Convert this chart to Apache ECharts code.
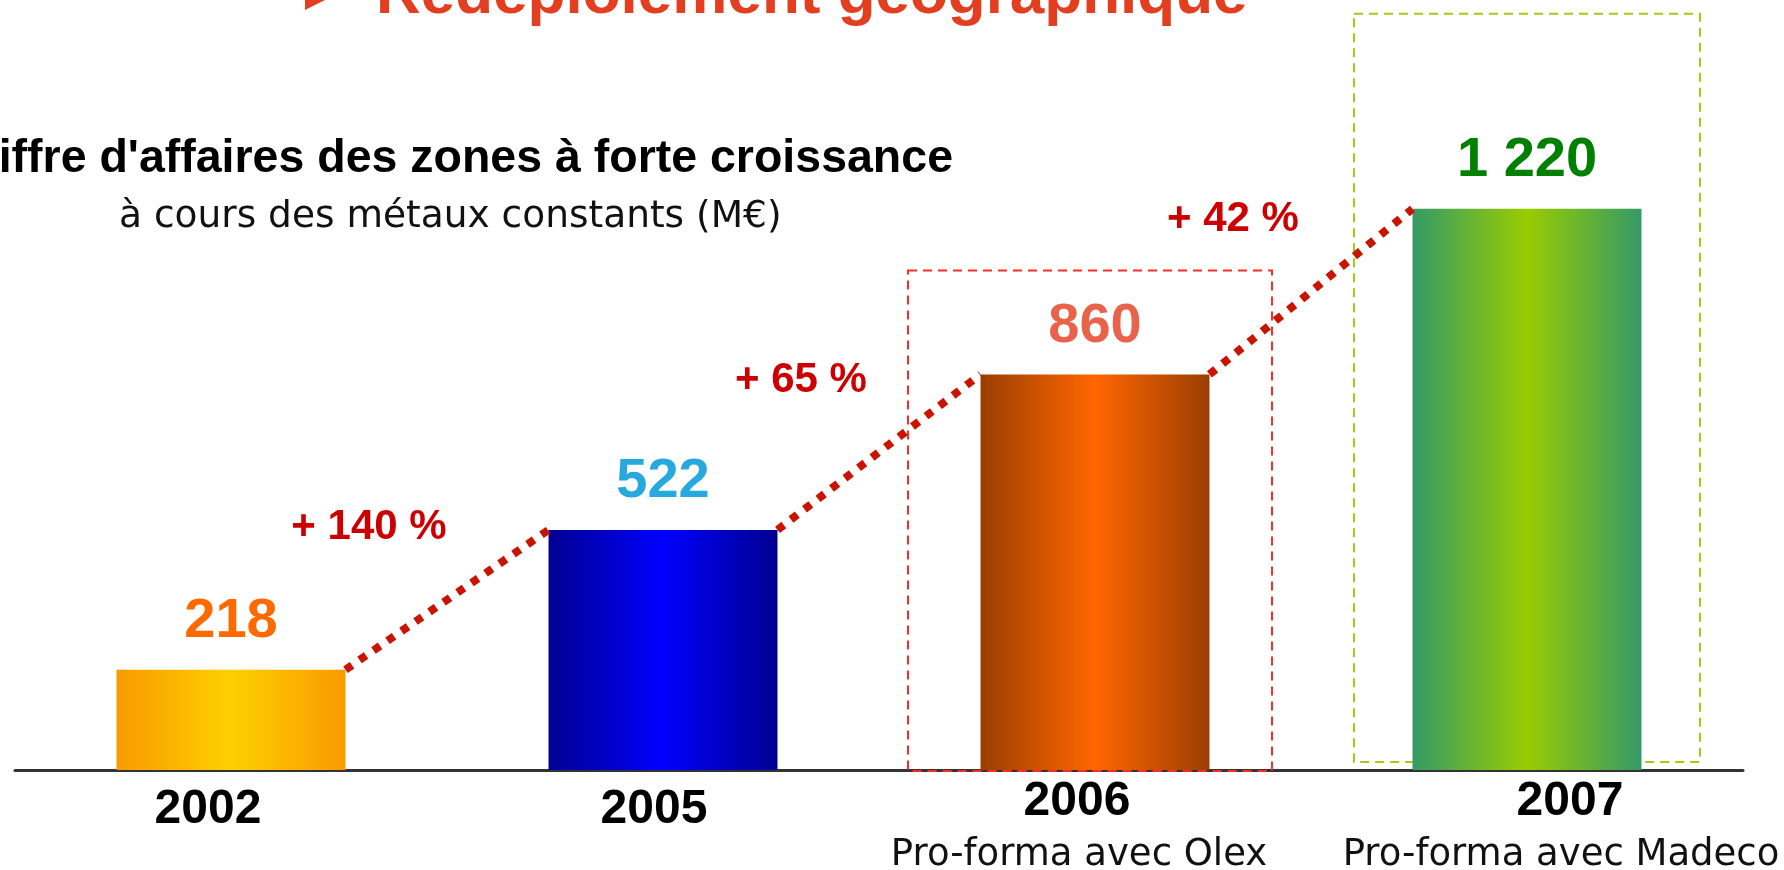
<!DOCTYPE html>
<html>
<head>
<meta charset="utf-8">
<title>Redéploiement géographique</title>
<script src="https://cdn.jsdelivr.net/npm/echarts@6/dist/echarts.min.js"></script>
<style>
html, body { margin: 0; padding: 0; background: #fff; }
#main { width: 1784px; height: 870px; }
</style>
</head>
<body>
<div id="main"></div>
<script>
// données
var years = ['2002', '2005', '2006', '2007'];
var notes = ['', '', 'Pro-forma avec Olex', 'Pro-forma avec Madeco'];
var values = [218, 522, 860, 1220];
var valueLabels = ['218', '522', '860', '1 220'];
var growth = ['+ 140 %', '+ 65 %', '+ 42 %'];

// couleurs : bord / centre des barres, étiquettes
var barEdge = ['#F99A00', '#000090', '#9A3E00', '#359A66'];
var barMid = ['#FDD000', '#0000FF', '#FF6600', '#99CC00'];
var labelColor = ['#FF6A00', '#27A9E0', '#E8634A', '#008000'];

var BAR_RATIO = 0.53;
// décalage horizontal des libellés d'axe (px), comme sur la diapo
var yearShift = [-23, -9, -18, 43];
var noteShift = [0, 0, -16, 34];

var chart = echarts.init(document.getElementById('main'));

var barData = values.map(function (v, i) {
	return {
		value: v,
		itemStyle: {
			color: new echarts.graphic.LinearGradient(0, 0, 1, 0, [
				{offset: 0, color: barEdge[i]},
				{offset: 0.5, color: barMid[i]},
				{offset: 1, color: barEdge[i]}
			])
		},
		label: {color: labelColor[i]}
	};
});

// ligne pointillée entre deux barres + pourcentage
function renderGrowth(params, api) {
	var i = params.dataIndex;
	var half = api.size([1, 0])[0] * BAR_RATIO / 2;
	var a = api.coord([i, values[i]]);
	var b = api.coord([i + 1, values[i + 1]]);
	var x1 = a[0] + half, y1 = a[1];
	var x2 = b[0] - half, y2 = b[1];
	return {
		type: 'group',
		children: [{
			type: 'line',
			shape: {x1: x1, y1: y1, x2: x2, y2: y2},
			style: {stroke: '#C81400', lineWidth: 8, lineDash: [8, 9]}
		}, {
			type: 'text',
			x: (x1 + x2) / 2 - 78,
			y: (y1 + y2) / 2 - 72,
			style: {
				text: growth[i],
				fill: '#CC0000',
				font: 'bold 42px "Liberation Sans"',
				align: 'center',
				verticalAlign: 'middle'
			}
		}]
	};
}

// cadres pointillés autour de 2006 et 2007
var frames = [
	{index: 2, color: '#FF2A2A', above: 104, left: 187, right: 177, below: 1},
	{index: 3, color: '#A2CC14', above: 195, left: 173, right: 173, below: -8}
];
function renderFrame(params, api) {
	var f = frames[params.dataIndex];
	var top = api.coord([f.index, values[f.index]]);
	var base = api.coord([f.index, 0]);
	return {
		type: 'rect',
		shape: {
			x: top[0] - f.left,
			y: top[1] - f.above,
			width: f.left + f.right,
			height: base[1] + f.below - top[1] + f.above
		},
		style: {fill: 'none', stroke: f.color, lineWidth: 2, lineDash: [9, 6]}
	};
}

// padding qui décale un texte centré de s px
function shiftPad(s, top) {
	return s > 0 ? [top, 0, 0, 2 * s] : [top, -2 * s, 0, 0];
}

// styles riches des libellés de l'axe x
var rich = {};
years.forEach(function (y, i) {
	rich['y' + i] = {
		fontFamily: 'Liberation Sans', fontWeight: 'bold', fontSize: 48, color: '#000', lineHeight: 52,
		padding: shiftPad(yearShift[i], notes[i] ? 0 : 16)
	};
	rich['n' + i] = {
		fontFamily: 'DejaVu Sans', fontSize: 37, color: '#111', lineHeight: 54,
		padding: shiftPad(noteShift[i], 0)
	};
});

var option = {
	animation: false,
	backgroundColor: '#fff',
	grid: {left: 15, right: 41, top: 80, bottom: 100, outerBoundsMode: 'none'},
	xAxis: {
		type: 'category',
		data: years,
		axisTick: {show: false},
		axisLine: {lineStyle: {color: '#333', width: 3}},
		axisLabel: {
			interval: 0,
			margin: 6,
			formatter: function (v, i) {
				var s = '{y' + i + '|' + v + '}';
				if (notes[i]) s += '\n{n' + i + '|' + notes[i] + '}';
				return s;
			},
			rich: rich
		}
	},
	yAxis: {type: 'value', min: 0, max: 1500, show: false},
	graphic: [
		{
			type: 'polygon',
			shape: {points: [[305, -30], [345, -10], [305, 10]]},
			style: {fill: '#E23E1F'}
		},
		{
			type: 'text',
			x: 376, y: -4,
			style: {
				text: 'Redéploiement géographique',
				fill: '#E23E1F',
				font: 'bold 62px "Liberation Sans"',
				align: 'left',
				verticalAlign: 'middle'
			}
		},
		{
			type: 'text',
			x: 953, y: 159,
			style: {
				text: "Chiffre d'affaires des zones à forte croissance",
				fill: '#000',
				font: 'bold 46.5px "Liberation Sans"',
				align: 'right',
				verticalAlign: 'middle'
			}
		},
		{
			type: 'text',
			x: 119, y: 217,
			style: {
				text: 'à cours des métaux constants (M€)',
				fill: '#111',
				font: '37.5px "DejaVu Sans"',
				align: 'left',
				verticalAlign: 'middle'
			}
		}
	],
	series: [
		{
			type: 'custom',
			z: 1,
			renderItem: renderFrame,
			data: frames.map(function (f) { return [f.index, values[f.index]]; }),
			encode: {x: 0, y: 1},
			silent: true
		},
		{
			type: 'bar',
			z: 2,
			barWidth: (BAR_RATIO * 100) + '%',
			data: barData,
			label: {
				show: true,
				position: 'top',
				distance: 20,
				fontFamily: 'Liberation Sans',
				fontWeight: 'bold',
				fontSize: 56,
				formatter: function (p) { return valueLabels[p.dataIndex]; }
			}
		},
		{
			type: 'custom',
			z: 3,
			renderItem: renderGrowth,
			data: growth.map(function (g, i) { return [i, values[i]]; }),
			encode: {x: 0, y: 1},
			silent: true
		}
	]
};

chart.setOption(option);
</script>
</body>
</html>
